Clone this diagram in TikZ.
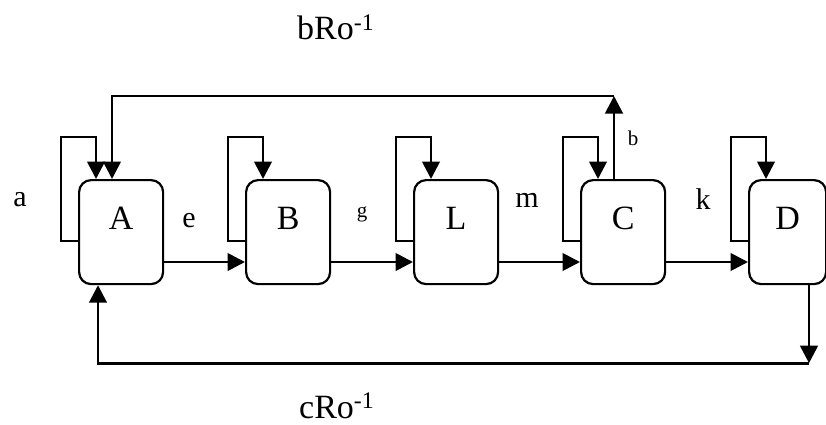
\documentclass[tikz,border=0pt]{standalone}
\usepackage{fontspec}
\setmainfont{Liberation Serif}
\usetikzlibrary{arrows.meta,calc}

\tikzset{
  stage/.style={draw, line width=2.2pt, rounded corners=12pt, inner sep=0pt,
    minimum width=84pt, text height=49pt, text depth=55pt,
    font=\fontsize{34}{40}\selectfont},
  conn/.style={line width=2.8pt, -{Triangle[width=17.5pt,length=17.5pt]}},
  lbl/.style={anchor=base, inner sep=0pt, font=\fontsize{30}{36}\selectfont},
  smalllbl/.style={anchor=base, inner sep=0pt, font=\fontsize{21}{25}\selectfont},
  gain/.style={anchor=base west, inner sep=0pt, font=\fontsize{34}{40}\selectfont}
}

\begin{document}
\begin{tikzpicture}[x=1pt, y=-1pt]
  \useasboundingbox (0,0) rectangle (826,425);

  % stages of the chain
  \node[stage, anchor=north west] (A) at (78,179) {A};
  \node[stage, anchor=north west] (B) at (245,179) {B};
  \node[stage, anchor=north west] (L) at (413,179) {L};
  \node[stage, anchor=north west] (C) at (580,179) {C};
  \node[stage, anchor=north west, minimum width=77pt] (D) at (748,179) {D};

  % forward transitions
  \foreach \s/\t in {A/B, B/L, L/C, C/D}
    \draw[conn] ($(\s.north east)+(0,83)$) -- ($(\t.north west)+(0,83)$);

  % self loops
  \foreach \s in {A, B, L, C, D}
    \draw[conn] ($(\s.north west)+(0,62)$) -- ++(-17,0) -- ++(0,-104)
      -| ($(\s.north west)+(18,0)$);

  % feedback from C back to A over the top
  \coordinate (ctop) at ($(C.north west)+(34,-83)$);
  \draw[conn] ($(C.north west)+(34,0)$) -- (ctop);
  \draw[conn] (ctop) -| ($(A.north west)+(34,0)$);

  % feedback from D back to A along the bottom
  \coordinate (dbot) at ($(D.south west)+(61,78)$);
  \draw[conn] ($(D.south west)+(61,0)$) -- (dbot);
  \draw[conn] (dbot) -| ($(A.south west)+(20,0)$);

  % transition labels
  \node[lbl] (la) at (20,206) {a};
  \node[lbl] (le) at (189,227) {e};
  \node[smalllbl] (lg) at (362,217) {g};
  \node[lbl] (lm) at (527,207) {m};
  \node[lbl] (lk) at (703,209) {k};
  \node[smalllbl] (lb) at (633,145) {b};

  % feedback gains
  \node[gain] (gtop) at (297,40) {bRo\textsuperscript{-1}};
  \node[gain] (gbot) at (299,418) {cRo\textsuperscript{-1}};
\end{tikzpicture}
\end{document}
